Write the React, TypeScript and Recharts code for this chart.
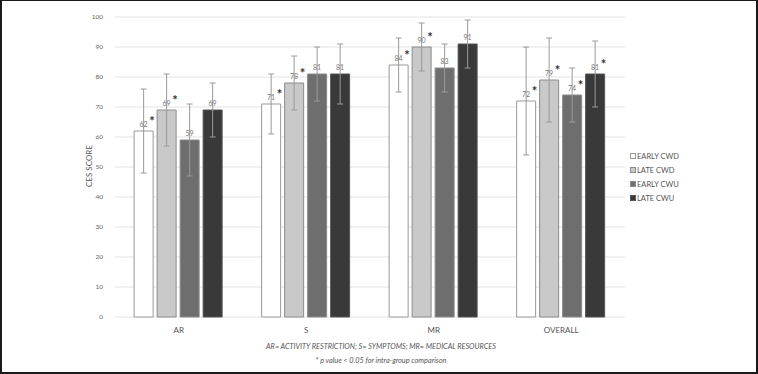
import React from 'react';
import { BarChart, Bar, XAxis, YAxis, CartesianGrid, ErrorBar, LabelList, Label } from 'recharts';

const categories = ['AR', 'S', 'MR', 'OVERALL'];
const yTicks = [0, 10, 20, 30, 40, 50, 60, 70, 80, 90, 100];

// mean scores
const earlyCwd = [62, 71, 84, 72];
const lateCwd = [69, 78, 90, 79];
const earlyCwu = [59, 81, 83, 74];
const lateCwu = [69, 81, 91, 81];

// whisker lengths [down, up]
const earlyCwdErr = [[14, 14], [10, 10], [9, 9], [18, 18]];
const lateCwdErr = [[12, 12], [9, 9], [8, 8], [14, 14]];
const earlyCwuErr = [[12, 12], [9, 9], [8, 8], [9, 9]];
const lateCwuErr = [[9, 9], [10, 10], [8, 8], [11, 11]];

// * p < 0.05 markers
const earlyCwdSig = [true, true, true, true];
const lateCwdSig = [true, true, true, true];
const earlyCwuSig = [false, false, false, true];
const lateCwuSig = [false, false, false, true];

const data = categories.map((name, i) => ({
    name,
    earlyCwd: earlyCwd[i],
    lateCwd: lateCwd[i],
    earlyCwu: earlyCwu[i],
    lateCwu: lateCwu[i],
    earlyCwdErr: earlyCwdErr[i],
    lateCwdErr: lateCwdErr[i],
    earlyCwuErr: earlyCwuErr[i],
    lateCwuErr: lateCwuErr[i],
}));

const SERIES = [
    { key: 'earlyCwd', label: 'EARLY CWD', fill: '#ffffff', stroke: '#9a9a9a', sig: earlyCwdSig },
    { key: 'lateCwd', label: 'LATE CWD', fill: '#c9c9c9', stroke: '#8c8c8c', sig: lateCwdSig },
    { key: 'earlyCwu', label: 'EARLY CWU', fill: '#6e6e6e', stroke: '#8a8a8a', sig: earlyCwuSig },
    { key: 'lateCwu', label: 'LATE CWU', fill: '#393939', stroke: '#555555', sig: lateCwuSig },
];

const FONT = 'Lato, "Open Sans", sans-serif';

const makeLabel = (sig: boolean[]) => (props: any) => {
    const { x, y, width, value, index } = props;
    return (
        <g>
            <text x={x + width / 2} y={y - 4} textAnchor="middle" fontSize={7} fill="#777" fontFamily={FONT}>
                {value}
            </text>
            {sig[index] && (
                <text x={x + width - 1} y={y - 5} textAnchor="middle" fontSize={13} fontWeight="bold" fill="#333" fontFamily={FONT}>
                    *
                </text>
            )}
        </g>
    );
};

const App: React.FC = () => {
    return (
        <div style={{ position: 'absolute', left: 0, top: 0, width: 758, height: 374, background: '#fff', fontFamily: FONT }}>
            <BarChart
                width={758}
                height={374}
                data={data}
                margin={{ top: 17, right: 133, bottom: 27, left: 50 }}
                barCategoryGap="15%"
                barGap={4}
            >
                <CartesianGrid vertical={false} stroke="#e3e3e3" />
                <XAxis
                    dataKey="name"
                    axisLine={false}
                    tickLine={false}
                    tickMargin={4}
                    tick={{ fontSize: 8, fill: '#555', fontFamily: FONT }}
                />
                <YAxis
                    domain={[0, 100]}
                    ticks={yTicks}
                    width={65}
                    axisLine={false}
                    tickLine={false}
                    tickMargin={6}
                    tick={{ fontSize: 6.5, fill: '#666', fontFamily: FONT }}
                >
                    <Label
                        content={() => (
                            <text x={92} y={166} transform="rotate(-90 92 166)" textAnchor="middle" fontSize={8} fill="#555" fontFamily={FONT}>
                                CES SCORE
                            </text>
                        )}
                    />
                </YAxis>
                {SERIES.map((s) => (
                    <Bar key={s.key} dataKey={s.key} fill={s.fill} stroke={s.stroke} strokeWidth={1} isAnimationActive={false}>
                        <ErrorBar dataKey={`${s.key}Err`} width={3} stroke="#9a9a9a" strokeWidth={1} />
                        <LabelList dataKey={s.key} content={makeLabel(s.sig)} />
                    </Bar>
                ))}
            </BarChart>

            {/* legend */}
            <div style={{ position: 'absolute', left: 630, top: 149 }}>
                {SERIES.map((s) => (
                    <div key={s.key} style={{ display: 'flex', alignItems: 'center', height: 14, fontSize: 7.5, color: '#555' }}>
                        <span style={{ display: 'inline-block', width: 4, height: 4, background: s.fill, border: `1px solid ${s.stroke}`, marginRight: 1 }} />
                        {s.label}
                    </div>
                ))}
            </div>

            {/* footnotes */}
            <div style={{ position: 'absolute', left: 0, width: 762, top: 342, textAlign: 'center', fontSize: 7.3, fontStyle: 'italic', color: '#555' }}>
                AR= ACTIVITY RESTRICTION; S= SYMPTOMS; MR= MEDICAL RESOURCES
            </div>
            <div style={{ position: 'absolute', left: 0, width: 762, top: 356, textAlign: 'center', fontSize: 7.3, fontStyle: 'italic', color: '#555' }}>
                * p value &lt; 0.05 for intra-group comparison
            </div>

            {/* frame */}
            <div style={{ position: 'absolute', left: 0, top: 0, width: 758, height: 374, boxSizing: 'border-box', borderStyle: 'solid', borderColor: '#1a1a1a', borderWidth: '1px 2px 2px 2px', pointerEvents: 'none' }} />
        </div>
    );
};

export default App;
